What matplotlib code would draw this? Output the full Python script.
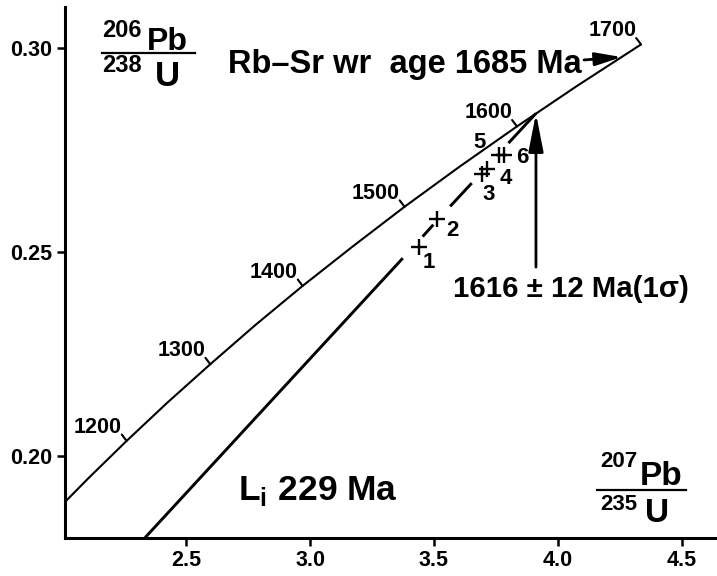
import matplotlib
matplotlib.use("Agg")
import matplotlib.pyplot as plt

plt.rcParams["font.family"] = ["Liberation Sans", "DejaVu Sans"]
plt.rcParams["font.weight"] = "bold"
plt.rcParams["mathtext.fontset"] = "custom"
plt.rcParams["mathtext.rm"] = "Liberation Sans:bold"
plt.rcParams["mathtext.bf"] = "Liberation Sans:bold"

# concordia (207Pb/235U, 206Pb/238U) at 50 Ma steps
conc_age = [1100, 1150, 1200, 1250, 1300, 1350, 1400, 1450, 1500, 1550, 1600, 1650, 1700]
conc_x = [1.9545, 2.1037, 2.2603, 2.4249, 2.5977, 2.7793, 2.9701, 3.1705, 3.3810,
          3.6021, 3.8344, 4.0784, 4.3347]
conc_y = [0.1852, 0.1944, 0.2037, 0.2131, 0.2225, 0.2321, 0.2417, 0.2513, 0.2611,
          0.2709, 0.2808, 0.2908, 0.3009]
age_ticks = [1200, 1300, 1400, 1500, 1600, 1700]

# zircon fractions
pt_labels = ["1", "2", "3", "4", "5", "6"]
pt_x = [3.441, 3.513, 3.692, 3.715, 3.763, 3.782]
pt_y = [0.2513, 0.2581, 0.2691, 0.2703, 0.2739, 0.2739]
pt_label_offset = [(6.5, -11.5), (11, -8), (5, -15), (13, -7), (-14, 8.5), (13.5, -2)]

# discordia, drawn in broken pieces between the points
disc_seg_x = [(2.335, 3.374), (3.454, 3.497), (3.565, 3.652), (3.800, 3.911)]
disc_seg_y = [(0.1800, 0.2485), (0.2538, 0.2567), (0.2612, 0.2669), (0.2767, 0.2840)]

upper_int = (3.911, 0.2840)      # 1616 Ma
rbsr_point = (4.2565, 0.2978)    # 1685 Ma on concordia

x_ticks = [2.5, 3.0, 3.5, 4.0, 4.5]
x_ticklabels = ["2.5", "3.0", "3.5", "4.0", "4.5"]
y_ticks = [0.20, 0.25, 0.30]
y_ticklabels = ["0.20", "0.25", "0.30"]

fig = plt.figure(figsize=(7.17, 5.76), dpi=100)
ax = fig.add_axes([0.0907, 0.066, 0.9093, 0.922])
ax.set_xlim(2.012, 4.641)
ax.set_ylim(0.1799, 0.3101)

for side in ("top", "right"):
    ax.spines[side].set_visible(False)
for side in ("left", "bottom"):
    ax.spines[side].set_linewidth(2.2)

ax.set_xticks(x_ticks)
ax.set_xticklabels(x_ticklabels)
ax.set_yticks(y_ticks)
ax.set_yticklabels(y_ticklabels)
ax.tick_params(direction="out", length=6, width=1.8, labelsize=15.5, pad=3)

# concordia curve, ends at 1700 Ma
ax.plot(conc_x, conc_y, color="black", lw=1.5, solid_capstyle="butt")

# age ticks and labels
for age in age_ticks:
    i = conc_age.index(age)
    xy = (conc_x[i], conc_y[i])
    ax.annotate("", xy=xy, xytext=(-3.5, 4.6), textcoords="offset points",
                arrowprops=dict(arrowstyle="-", lw=1.5, shrinkA=0, shrinkB=0))
    ax.annotate(str(age), xy=xy, xytext=(-3.5, 5.8), textcoords="offset points",
                ha="right", va="baseline", fontsize=15.5)

# discordia pieces
for sx, sy in zip(disc_seg_x, disc_seg_y):
    ax.plot(sx, sy, color="black", lw=2.1, solid_capstyle="butt")

# data points
ax.plot(pt_x, pt_y, ls="none", marker="+", ms=11.5, mew=1.7, color="black")
for lab, x, y, off in zip(pt_labels, pt_x, pt_y, pt_label_offset):
    ax.annotate(lab, xy=(x, y), xytext=off, textcoords="offset points",
                ha="center", va="center", fontsize=16)

# upper intercept arrow
ax.annotate("", xy=upper_int, xytext=(upper_int[0], 0.2463),
            arrowprops=dict(arrowstyle="-|>,head_length=2.3,head_width=0.45",
                            mutation_scale=10, lw=2.0, color="black",
                            shrinkA=0, shrinkB=0))
ax.text(3.577, 0.2390, "1616 \u00b1 12 Ma(1\u03c3)", fontsize=21.2,
        ha="left", va="baseline")

# Rb-Sr age arrow
ax.text(2.669, 0.2939, "Rb\u2013Sr wr  age 1685 Ma", fontsize=23.5,
        ha="left", va="baseline")
ax.annotate("", xy=rbsr_point, xytext=(4.105, 0.2971),
            arrowprops=dict(arrowstyle="-|>,head_length=1.6,head_width=0.4",
                            mutation_scale=10, lw=2.0, color="black",
                            shrinkA=0, shrinkB=0))

ax.text(2.710, 0.1892, r"L$_{\mathrm{i}}$ 229 Ma", fontsize=25.5,
        ha="left", va="baseline")

# axis labels drawn as stacked fractions
ax.text(2.161, 0.3028, "206", fontsize=17, ha="left", va="baseline")
ax.text(2.343, 0.2996, "Pb", fontsize=23, ha="left", va="baseline")
ax.plot([2.161, 2.536], [0.2988, 0.2988], color="black", lw=1.6, clip_on=False)
ax.text(2.161, 0.2942, "238", fontsize=17, ha="left", va="baseline")
ax.text(2.375, 0.2907, "U", fontsize=25, ha="left", va="baseline")

ax.text(4.169, 0.1974, "207", fontsize=16, ha="left", va="baseline")
ax.text(4.331, 0.1930, "Pb", fontsize=24, ha="left", va="baseline")
ax.plot([4.157, 4.516], [0.1917, 0.1917], color="black", lw=1.6)
ax.text(4.169, 0.1868, "235", fontsize=16, ha="left", va="baseline")
ax.text(4.351, 0.1839, "U", fontsize=24, ha="left", va="baseline")

fig.savefig("out.png", dpi=100)
